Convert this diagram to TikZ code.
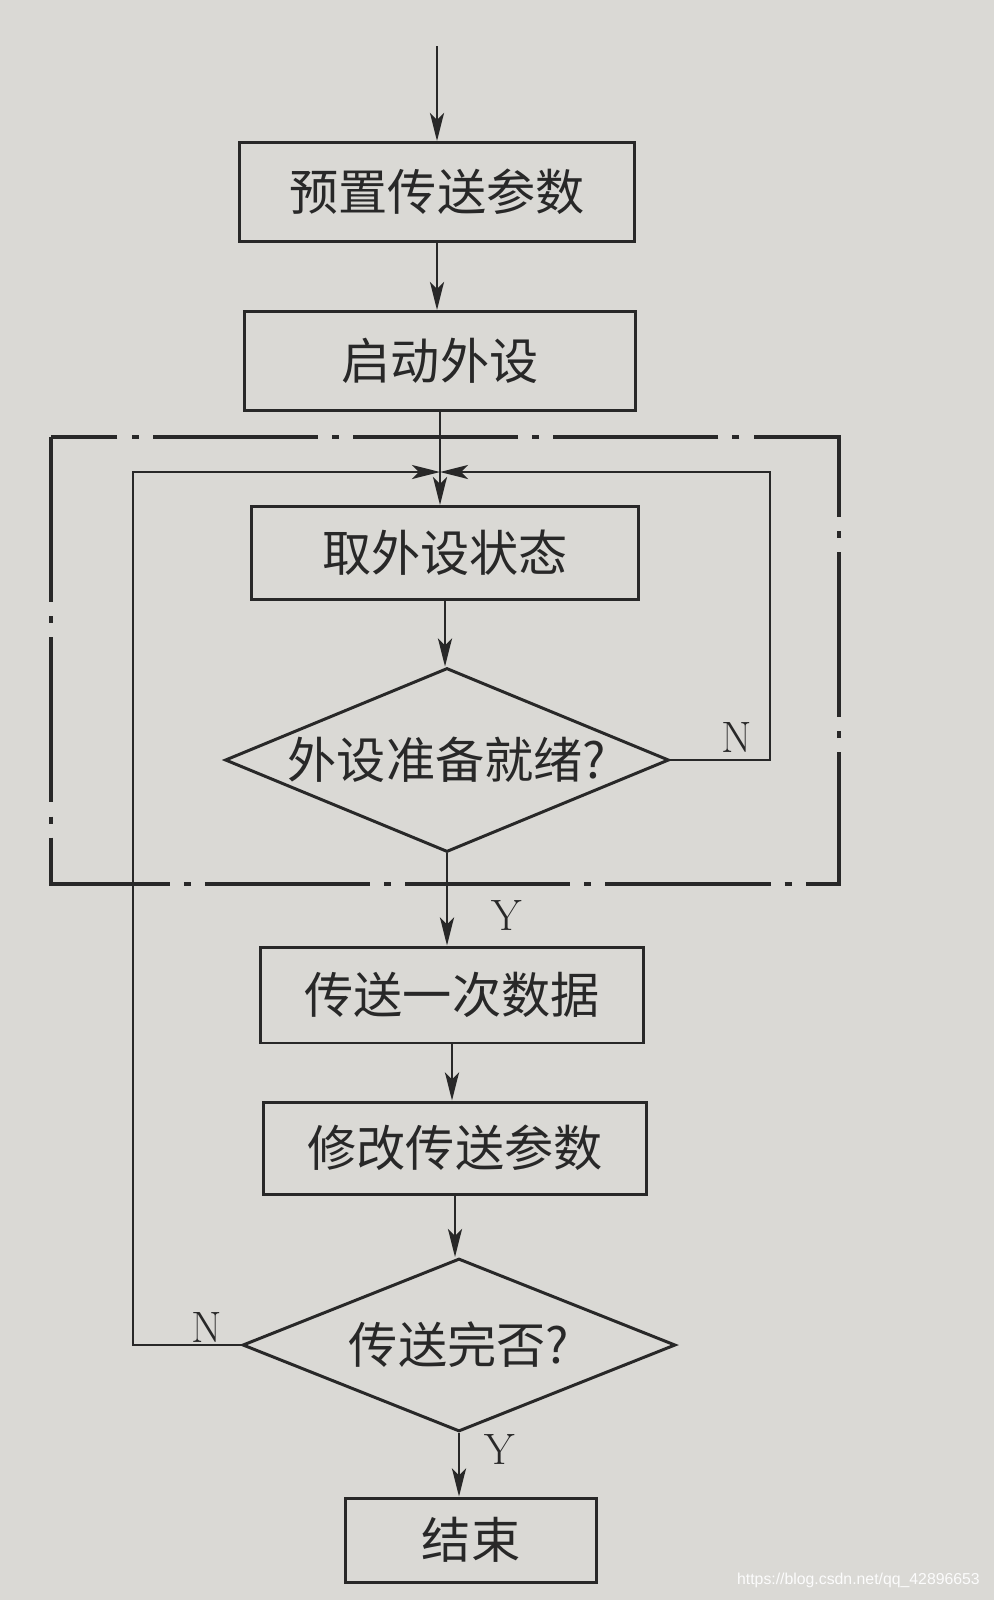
\documentclass[tikz,border=0pt]{standalone}
\usepackage{fontspec}
\newfontfamily\cjk{Noto Sans CJK SC}
\newfontfamily\wmfont{Liberation Sans}
\usetikzlibrary{shapes.geometric,arrows.meta}
\definecolor{paper}{RGB}{218,217,213}
\definecolor{ink}{RGB}{40,40,40}
\begin{document}
\begin{tikzpicture}[x=0.02cm,y=-0.02cm,
  stepbox/.style={draw=ink, line width=1.7pt, inner sep=0pt, text=ink,
    font=\cjk\fontsize{28}{32}\selectfont},
  decbox/.style={diamond, draw=ink, line width=1.7pt, inner sep=0pt},
  dtext/.style={text=ink, font=\cjk\fontsize{28}{32}\selectfont},
  arr/.style={draw=ink, line width=1.6pt, -{Stealth[length=16pt,width=8pt,inset=4pt]}},
  ynlabel/.style={text=ink, font=\fontsize{25}{28}\selectfont},
  dashdot/.style={draw=ink, line width=1.8pt, dash pattern=on 94pt off 8pt on 4pt off 8pt}]
\fill[paper] (0,0) rectangle (994,1600);
\useasboundingbox (0,0) rectangle (994,1600);

\node[stepbox, minimum width=7.9cm, minimum height=1.98cm] (b1) at (437,192) {预置传送参数};
\node[stepbox, minimum width=7.82cm, minimum height=1.98cm] (b2) at (440,361) {启动外设};
\node[stepbox, minimum width=7.76cm, minimum height=1.86cm] (b3) at (445,553) {取外设状态};
\node[decbox, minimum width=8.88cm, minimum height=3.68cm,
  label={[dtext]center:外设准备就绪?}] (d1) at (447,760) {};
\node[stepbox, minimum width=7.68cm, minimum height=1.92cm] (b4) at (452,995) {传送一次数据};
\node[stepbox, minimum width=7.66cm, minimum height=1.84cm] (b5) at (455,1148) {修改传送参数};
\node[decbox, minimum width=8.66cm, minimum height=3.46cm,
  label={[dtext]center:传送完否?}] (d2) at (459,1345) {};
\node[stepbox, minimum width=5.04cm, minimum height=1.68cm] (b6) at (471,1540) {结束};

\coordinate (start) at (437,46);
\coordinate (m) at (440,472);
\coordinate (lx) at (133,472);
\coordinate (rx) at (770,472);

\draw[dashdot] (51,437) rectangle (839,884);

\draw[arr] (start) -- (b1.north);
\draw[arr] (b1.south) -- (b1.south |- b2.north);
\draw[arr] (b2.south) -- (b2.south |- b3.north);
\draw[arr] (d2.west) -| (lx) -- (m);
\draw[arr] (d1.east) -| (rx) -- (m);
\draw[arr] (b3.south) -- (b3.south |- d1.north);
\draw[arr] (d1.south) -- (d1.south |- b4.north);
\draw[arr] (b4.south) -- (b4.south |- b5.north);
\draw[arr] (b5.south) -- (b5.south |- d2.north);
\draw[arr] (d2.south) -- (d2.south |- b6.north);

\node[ynlabel] (n1) at (737,737) {N};
\node[ynlabel] (y1) at (507,915) {Y};
\node[ynlabel] (n2) at (207,1327) {N};
\node[ynlabel] (y2) at (500,1449) {Y};

\node[anchor=east, text=white!92!paper, font=\wmfont\fontsize{9}{11}\selectfont] (wm) at (986,1580) {https://blog.csdn.net/qq\_42896653};
\end{tikzpicture}
\end{document}
